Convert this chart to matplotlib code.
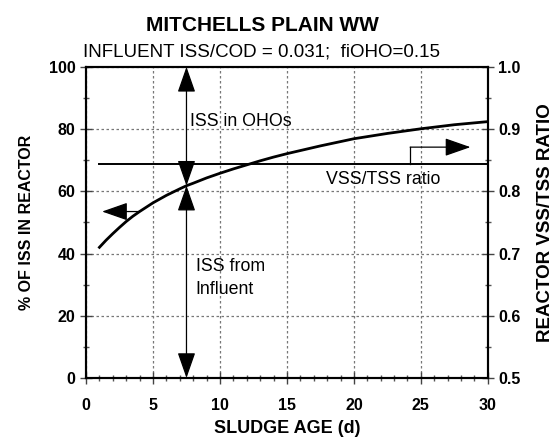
import matplotlib.pyplot as plt
from matplotlib.ticker import MultipleLocator

plt.rcParams['font.family'] = ['Liberation Sans', 'DejaVu Sans']

# data
sludge_age = [1, 1.5, 2, 2.5, 3, 3.5, 4, 5, 6, 7, 7.5, 8, 9, 10, 11, 12,
              13, 14, 15, 17.5, 20, 22.5, 25, 27.5, 30]
iss_pct = [42.0, 44.3, 46.4, 48.4, 50.3, 52.0, 53.5, 56.3, 58.7, 60.8, 61.8,
           62.6, 64.3, 65.8, 67.2, 68.5, 69.8, 71.0, 72.1, 74.6, 76.9, 78.6,
           80.1, 81.4, 82.4]
vss_tss_age = [1, 30]
vss_tss_ratio = [0.844, 0.844]

fig = plt.figure(figsize=(5.55, 4.37), dpi=100)
ax = fig.add_axes([0.155, 0.135, 0.724, 0.712])
ax2 = ax.twinx()

ax.plot(sludge_age, iss_pct, color='black', lw=2, zorder=5)
ax2.plot(vss_tss_age, vss_tss_ratio, color='black', lw=1.4, zorder=5)

ax.set_xlim(0, 30)
ax.set_ylim(0, 100)
ax2.set_ylim(0.5, 1.0)

ax.xaxis.set_major_locator(MultipleLocator(5))
ax.xaxis.set_minor_locator(MultipleLocator(1))
ax.yaxis.set_major_locator(MultipleLocator(20))
ax.yaxis.set_minor_locator(MultipleLocator(10))
ax2.yaxis.set_major_locator(MultipleLocator(0.1))
ax2.yaxis.set_minor_locator(MultipleLocator(0.05))
ax2.yaxis.set_major_formatter(plt.FormatStrFormatter('%.1f'))

ax.grid(True, which='major', color='#777777', ls=(0, (2, 2)), lw=0.9)

for a in (ax, ax2):
    a.tick_params(which='major', direction='inout', length=9, width=1,
                  labelsize=11.5, color='#444444')
    a.tick_params(which='minor', direction='inout', length=5, width=1,
                  color='#555555')
    for lab in a.get_xticklabels() + a.get_yticklabels():
        lab.set_fontweight('bold')
    for s in a.spines.values():
        s.set_linewidth(1.5)
ax.tick_params(axis='x', pad=10)
ax.tick_params(axis='y', pad=3)
ax2.tick_params(axis='y', pad=3)

ax.set_xlabel('SLUDGE AGE (d)', fontsize=13, fontweight='bold', labelpad=5)
ax.set_ylabel('% OF ISS IN REACTOR', fontsize=11.5, fontweight='bold', labelpad=11)
ax2.set_ylabel('REACTOR VSS/TSS RATIO', fontsize=13.5, fontweight='bold', labelpad=12)

fig.text(0.472, 0.942, 'MITCHELLS PLAIN WW', ha='center', va='center',
         fontsize=15, fontweight='bold')
fig.text(0.472, 0.882, 'INFLUENT ISS/COD = 0.031;  fiOHO=0.15', ha='center',
         va='center', fontsize=13.5)

head = '<|-|>,head_length=0.8,head_width=0.28'
ax.annotate('', xy=(7.5, 100), xytext=(7.5, 61.8),
            arrowprops=dict(arrowstyle=head, mutation_scale=20, color='black',
                            lw=0.9, shrinkA=0, shrinkB=0), zorder=6)
ax.annotate('', xy=(7.5, 0), xytext=(7.5, 61.8),
            arrowprops=dict(arrowstyle=head, mutation_scale=20, color='black',
                            lw=0.9, shrinkA=0, shrinkB=0), zorder=6)

one = '-|>,head_length=0.8,head_width=0.28'
ax.annotate('', xy=(1.2, 53.5), xytext=(4.0, 53.5),
            arrowprops=dict(arrowstyle=one, mutation_scale=20, color='black',
                            lw=0.9, shrinkA=0, shrinkB=0))
ax.plot([24.2, 24.2], [68.7, 74.2], color='black', lw=0.9)
ax.annotate('', xy=(28.7, 74.2), xytext=(24.2, 74.2),
            arrowprops=dict(arrowstyle=one, mutation_scale=20, color='black',
                            lw=0.9, shrinkA=0, shrinkB=0))

ax.text(7.75, 82.5, 'ISS in OHOs', fontsize=12.8, va='center', ha='left')
ax.text(8.2, 32.1, 'ISS from\nInfluent', fontsize=12.8, va='center', ha='left',
        linespacing=1.45)
ax.text(22.2, 63.7, 'VSS/TSS ratio', fontsize=12.8, va='center', ha='center')

fig.savefig('out.png', dpi=100)
